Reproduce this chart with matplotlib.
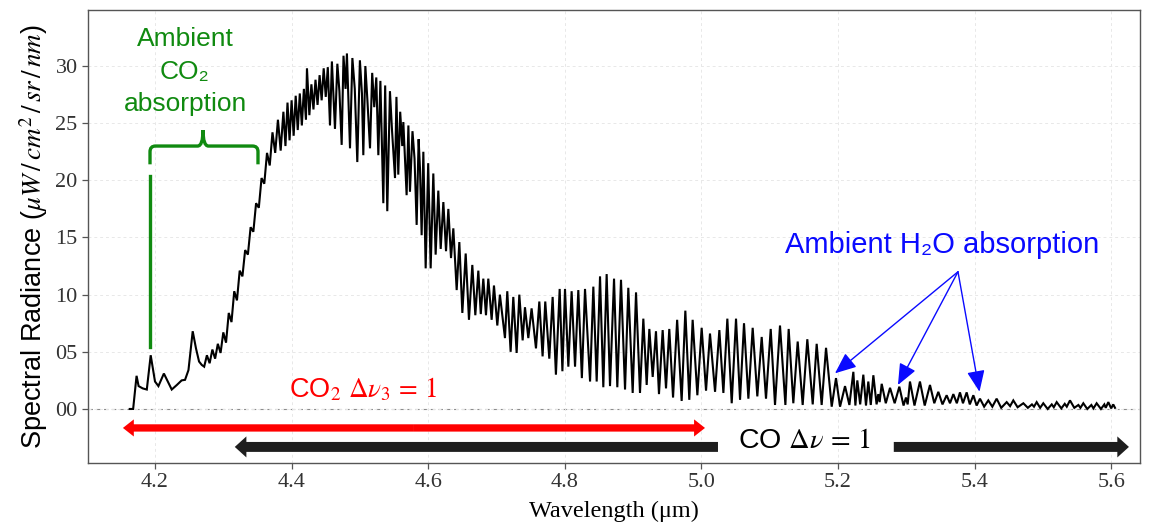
import numpy as np
import matplotlib
matplotlib.use("Agg")
import matplotlib.pyplot as plt
from matplotlib.patches import FancyArrow, PathPatch
from matplotlib.path import Path

plt.rcParams['mathtext.fontset'] = 'stix'
SANS = ['Liberation Sans', 'DejaVu Sans']
SERIF = ['Liberation Serif', 'DejaVu Serif']

# ---- emission spectrum, wavelength (um) vs spectral radiance ----
# onset and ambient CO2 absorption window
wl_onset = [4.1630, 4.1680, 4.1730, 4.1760, 4.1820, 4.1880, 4.1937, 4.2000, 4.2050,
            4.2130, 4.2195, 4.2245, 4.2320, 4.2390, 4.2440, 4.2490, 4.2552, 4.2600,
            4.2645, 4.2685]
rad_onset = [0.0, 0.0, 2.9, 2.0, 1.8, 1.7, 4.7, 2.4, 2.0,
             3.1, 2.3, 1.7, 2.1, 2.5, 2.55, 3.4, 6.8, 5.3,
             4.15, 3.85]

# steep rise of the CO2 band
wl_rise = [4.272, 4.276, 4.280, 4.284, 4.288, 4.292, 4.296, 4.300, 4.304, 4.308,
           4.312, 4.316, 4.320, 4.324, 4.328, 4.332, 4.336, 4.340, 4.344, 4.348,
           4.352, 4.356, 4.360, 4.364, 4.368, 4.372, 4.376, 4.380, 4.384]
rad_rise = [3.7, 4.7, 4.0, 5.2, 4.4, 5.7, 4.9, 6.7, 5.8, 8.4,
            7.6, 10.3, 9.5, 12.1, 11.6, 13.9, 13.5, 15.9, 15.5, 18.0,
            17.6, 20.2, 19.7, 22.4, 21.3, 24.2, 22.4, 25.3, 22.6]

# band maximum with rotational lines
wl_peak = [4.388, 4.391, 4.394, 4.397, 4.400, 4.403, 4.406, 4.409, 4.412, 4.415,
           4.418, 4.421, 4.4225, 4.426, 4.429, 4.432, 4.435, 4.438, 4.441, 4.444,
           4.447, 4.450, 4.453, 4.4562, 4.459, 4.4635, 4.467, 4.470, 4.4733, 4.476,
           4.479, 4.481, 4.4855, 4.489, 4.4925, 4.4962, 4.500, 4.503, 4.505, 4.508,
           4.511, 4.5148, 4.518, 4.521, 4.524, 4.527, 4.530, 4.5343, 4.537, 4.5401,
           4.544, 4.547, 4.5514, 4.5535, 4.5562, 4.559, 4.562, 4.5636, 4.5684, 4.571,
           4.5733, 4.577, 4.580, 4.5831, 4.586, 4.588, 4.5904, 4.5929, 4.5963, 4.600,
           4.6036, 4.6075, 4.6109, 4.6148, 4.6183, 4.6222, 4.6261, 4.6295, 4.6334, 4.6368,
           4.6417, 4.6456, 4.650, 4.6549, 4.6597, 4.6646, 4.669, 4.6734]
rad_peak = [26.0, 23.0, 26.8, 23.5, 27.0, 23.9, 27.4, 24.4, 27.6, 24.8,
            28.0, 25.3, 29.8, 25.7, 28.4, 26.2, 28.8, 26.6, 29.2, 27.0,
            29.8, 27.3, 29.9, 24.8, 30.4, 24.5, 30.2, 27.8, 23.1, 30.9,
            28.0, 31.1, 22.8, 30.7, 28.0, 21.6, 30.5, 27.6, 22.2, 30.0,
            27.0, 22.8, 29.4, 26.4, 29.0, 22.2, 28.7, 18.0, 28.3, 17.3,
            27.8, 24.4, 20.2, 27.3, 20.5, 26.0, 23.0, 25.1, 18.7, 24.8,
            19.0, 24.3, 21.9, 16.1, 23.6, 21.0, 15.2, 22.5, 12.3, 21.5,
            12.3, 20.6, 13.5, 19.1, 14.0, 18.1, 13.8, 17.5, 13.2, 15.8,
            10.4, 14.6, 8.4, 13.6, 7.8, 12.6, 8.2, 12.1]

# CO fundamental lines, 4.68-5.0 um
wl_comb = [4.677, 4.6807, 4.6846, 4.688, 4.6929, 4.6963, 4.7012, 4.705, 4.7124, 4.7158,
           4.7207, 4.7246, 4.7295, 4.7334, 4.7383, 4.7417, 4.7466, 4.7514, 4.7578, 4.7627,
           4.7675, 4.7714, 4.7773, 4.7822, 4.787, 4.7925, 4.7965, 4.8003, 4.8052, 4.810,
           4.815, 4.8198, 4.825, 4.8296, 4.837, 4.8418, 4.8467, 4.8516, 4.8564, 4.8613,
           4.8662, 4.8721, 4.8769, 4.8823, 4.8882, 4.893, 4.8994, 4.9043, 4.9101, 4.915,
           4.9199, 4.9238, 4.9287, 4.9335, 4.9379, 4.9433, 4.9482, 4.953, 4.9585, 4.9645,
           4.9711, 4.9765, 4.9823, 4.9872, 4.9941, 5.0004]
rad_comb = [8.3, 11.4, 8.2, 11.4, 7.8, 10.8, 7.3, 10.0, 6.2, 10.3,
            5.0, 9.8, 4.9, 10.0, 6.0, 8.9, 6.2, 8.8, 5.3, 9.4,
            4.6, 9.4, 4.4, 9.8, 3.0, 10.5, 3.3, 10.5, 3.7, 10.3,
            3.7, 10.4, 2.7, 10.5, 2.4, 10.7, 2.4, 11.6, 1.9, 11.8,
            2.0, 11.4, 1.9, 11.3, 1.7, 10.6, 1.4, 10.2, 1.4, 7.9,
            2.1, 7.0, 2.8, 6.8, 1.3, 6.9, 1.8, 7.0, 1.0, 7.8,
            0.7, 8.6, 0.8, 7.8, 1.2, 7.1]

# CO lines, 5.0-5.22 um
wl_co = [5.0068, 5.0126, 5.020, 5.0263, 5.0322, 5.038, 5.0444, 5.0507, 5.0566, 5.0624,
         5.0688, 5.0751, 5.0819, 5.0883, 5.0946, 5.1015, 5.1078, 5.1151, 5.123, 5.1278,
         5.1346, 5.141, 5.1483, 5.1551, 5.163, 5.1688, 5.1761, 5.1825, 5.1908, 5.1971,
         5.203, 5.2103, 5.2167, 5.2225]
rad_co = [1.6, 6.6, 1.5, 6.9, 1.4, 7.9, 0.5, 7.9, 0.8, 7.5,
          0.9, 7.1, 1.1, 6.3, 0.9, 7.0, 0.35, 7.3, 0.35, 7.0,
          0.5, 5.9, 0.35, 6.1, 0.4, 5.7, 0.35, 5.35, 0.2, 2.7,
          0.2, 2.0, 0.35, 3.25]

# weak tail with water absorption
wl_tail = [5.2255, 5.2283, 5.2325, 5.2371, 5.241, 5.2444, 5.248, 5.2518, 5.2565, 5.259,
           5.261, 5.264, 5.270, 5.2762, 5.283, 5.2898, 5.296, 5.2995, 5.302, 5.3054,
           5.312, 5.32, 5.327, 5.3347, 5.341, 5.3469, 5.353, 5.3591, 5.364, 5.3689,
           5.374, 5.3786, 5.383, 5.3884, 5.393, 5.3982, 5.403, 5.4079, 5.414, 5.4201,
           5.426, 5.4323, 5.439, 5.447, 5.452, 5.4567, 5.463, 5.4714, 5.478, 5.484,
           5.487, 5.4909, 5.496, 5.5006, 5.507, 5.513, 5.516, 5.5202, 5.527, 5.532,
           5.535, 5.5397, 5.546, 5.552, 5.555, 5.5592, 5.565, 5.571, 5.574, 5.5787,
           5.585, 5.590, 5.592, 5.5958, 5.600, 5.603, 5.6056]
rad_tail = [0.3, 2.5, 0.4, 3.0, 0.3, 2.4, 0.35, 2.95, 0.4, 1.3,
            0.6, 2.2, 0.5, 1.85, 0.5, 1.95, 0.3, 1.0, 0.4, 2.4,
            0.3, 2.4, 0.3, 2.1, 0.5, 1.5, 0.4, 1.2, 0.5, 1.3,
            0.5, 1.45, 0.5, 1.45, 0.4, 1.2, 0.3, 0.9, 0.2, 0.75,
            0.2, 0.9, 0.1, 0.6, 0.25, 0.75, 0.15, 0.5, 0.1, 0.4,
            0.2, 0.6, 0.1, 0.5, 0.0, 0.4, 0.15, 0.6, 0.05, 0.45,
            0.2, 0.75, 0.1, 0.35, 0.1, 0.5, 0.0, 0.35, 0.05, 0.5,
            0.0, 0.4, 0.1, 0.6, 0.05, 0.4, 0.1]

x_ticks = [4.2, 4.4, 4.6, 4.8, 5.0, 5.2, 5.4, 5.6]
y_ticks = [0, 5, 10, 15, 20, 25, 30]
y_tick_labels = ['00', '05', '10', '15', '20', '25', '30']

wavelength = np.concatenate([wl_onset, wl_rise, wl_peak, wl_comb, wl_co, wl_tail])
radiance = np.concatenate([rad_onset, rad_rise, rad_peak, rad_comb, rad_co, rad_tail])

# ---- figure ----
fig = plt.figure(figsize=(11.55, 5.27), dpi=100)
ax = fig.add_axes([88 / 1155, 64.3 / 527, 1052 / 1155, 452.7 / 527])
ax.set_xlim(4.1019, 5.6422)
ax.set_ylim(-4.70, 34.9)

ax.grid(True, color='#e8e8e8', ls=(0, (3, 3)), lw=0.7, zorder=0)
ax.axhline(0, color='#8c8c8c', ls=(0, (4, 3)), lw=0.8, zorder=1)
ax.plot(wavelength, radiance, color='black', lw=1.5, zorder=3, solid_joinstyle='miter')

ax.set_xticks(x_ticks)
ax.set_xticklabels([f'{t:.1f}' for t in x_ticks])
ax.set_yticks(y_ticks)
ax.set_yticklabels(y_tick_labels)
for lab in ax.get_xticklabels() + ax.get_yticklabels():
    lab.set_fontfamily(SERIF)
    lab.set_fontsize(16)
    lab.set_color('#333333')
ax.tick_params(direction='out', length=4, width=0.9, color='#555555')
for sp in ax.spines.values():
    sp.set_color('#555555')
    sp.set_linewidth(1.0)

ax.set_xlabel('Wavelength (\u03bcm)', fontfamily=SERIF, fontsize=17.5, labelpad=6)
ax.set_ylabel(r'Spectral Radiance ($\mu W\,/\,cm^2\,/\,sr\,/\,nm$)',
              fontfamily=SANS, fontsize=19.5, labelpad=4)

# ---- ambient CO2 annotation (green) ----
green = '#108a10'
ax.text(4.244, 29.5, 'Ambient\nCO\u2082\nabsorption', color=green, fontfamily=SANS,
        fontsize=19, ha='center', va='center', linespacing=1.45)
xl, xr, xm = 4.1927, 4.3508, 4.2703
yh, ye, yt = 23.0, 21.4, 24.4
dx, dy = 0.008, 0.5
brace = Path(
    [(xl, ye), (xl, yh - dy), (xl, yh), (xl + dx, yh), (xm - dx, yh), (xm, yh), (xm, yt),
     (xm, yt), (xm, yh), (xm + dx, yh), (xr - dx, yh), (xr, yh), (xr, yh - dy), (xr, ye)],
    [Path.MOVETO, Path.LINETO, Path.CURVE3, Path.CURVE3, Path.LINETO, Path.CURVE3, Path.CURVE3,
     Path.MOVETO, Path.CURVE3, Path.CURVE3, Path.LINETO, Path.CURVE3, Path.CURVE3, Path.LINETO])
ax.add_patch(PathPatch(brace, fill=False, edgecolor=green, lw=2.4, zorder=4))
ax.plot([xl, xl], [5.4, 20.4], color=green, lw=2.4, zorder=4)

# ---- ambient H2O annotation (blue) ----
blue = '#0a0aff'
ax.text(5.352, 14.35, 'Ambient H\u2082O absorption', color=blue, fontfamily=SANS,
        fontsize=21, ha='center', va='center')
for tip in [(5.1956, 3.12), (5.2878, 2.1), (5.4072, 1.51)]:
    ax.annotate('', xy=tip, xytext=(5.3757, 12.0),
                arrowprops=dict(arrowstyle='-|>,head_length=1.0,head_width=0.42',
                                mutation_scale=13, color=blue, lw=1.0,
                                shrinkA=0, shrinkB=0), zorder=5)

# ---- band extent arrows ----
red = '#ff0000'
y_red = -1.66
mid = (4.153 + 5.0053) / 2
for end in (4.153, 5.0053):
    ax.add_patch(FancyArrow(mid, y_red, end - mid, 0, width=0.64, head_width=1.5,
                            head_length=0.016, length_includes_head=True,
                            color=red, lw=0, zorder=4))
ax.text(4.5045, 1.7, r'CO$_2$ $\Delta\nu_3\,=\,1$', color=red, fontfamily=SANS,
        fontsize=19.5, ha='center', va='center')

dark = '#1e1e1e'
y_blk = -3.32
ax.add_patch(FancyArrow(5.0243, y_blk, 4.3168 - 5.0243, 0, width=0.87, head_width=1.84,
                        head_length=0.017, length_includes_head=True,
                        color=dark, lw=0, zorder=4))
ax.add_patch(FancyArrow(5.2817, y_blk, 5.626 - 5.2817, 0, width=0.87, head_width=1.84,
                        head_length=0.017, length_includes_head=True,
                        color=dark, lw=0, zorder=4))
ax.text(5.151, -2.8, r'CO $\Delta\nu\,=\,1$', color='black', fontfamily=SANS,
        fontsize=20.5, ha='center', va='center')

fig.savefig('out.png', dpi=100)
